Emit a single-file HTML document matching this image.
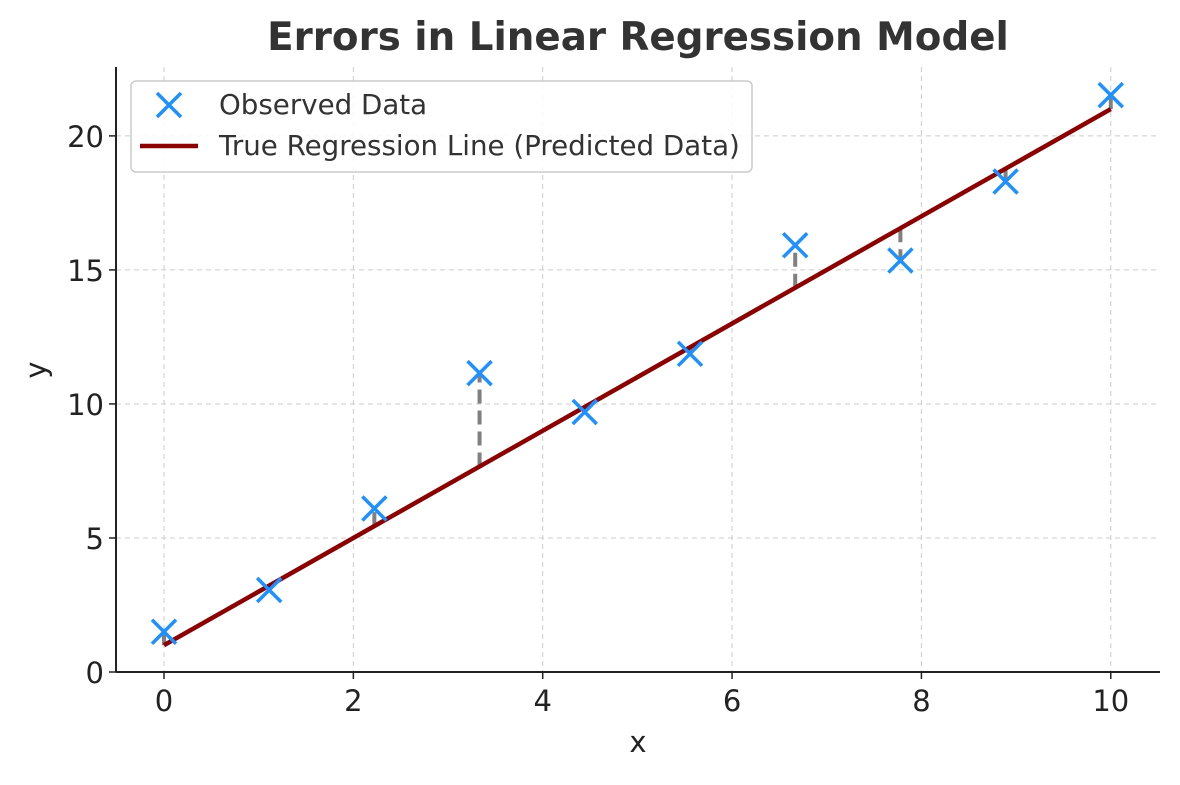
<!DOCTYPE html>
<html><head><meta charset="utf-8"><style>
body{margin:0;background:#fff;}
svg text{font-family:"DejaVu Sans","Liberation Sans",sans-serif;}
</style></head><body>
<svg id="chart" width="1180" height="780">
<text x="638" y="50" text-anchor="middle" font-size="38.8" font-weight="bold" fill="#333">Errors in Linear Regression Model</text>
<g id="grid"></g>
<g id="errs"></g>
<g id="line"></g>
<g id="pts"></g>
<g id="axes"></g>
</svg>
<script>
const xVals=[0,1.111,2.222,3.333,4.444,5.556,6.667,7.778,8.889,10];
const yObs=[1.5,3.06,6.1,11.15,9.7,11.87,15.92,15.35,18.3,21.52];
const slope=2, intercept=1;
const xTicks=[0,2,4,6,8,10];
const yTicks=[0,5,10,15,20];
const L=116,R=1160,T=67,B=672;
const xMin=-0.507,xMax=10.52,yMin=0,yMax=22.57;
const sx=v=>L+(v-xMin)/(xMax-xMin)*(R-L);
const sy=v=>B-(v-yMin)/(yMax-yMin)*(B-T);
const NS="http://www.w3.org/2000/svg";
function mk(tag,attrs,parent){const e=document.createElementNS(NS,tag);for(const k in attrs)e.setAttribute(k,attrs[k]);document.getElementById(parent).appendChild(e);return e;}
xTicks.forEach(t=>{
 const g=mk('line',{x1:sx(t),x2:sx(t),y1:T,y2:B,stroke:'#ccc','stroke-dasharray':'5,4','stroke-width':1},'grid');
 
 
 const tk=mk('line',{x1:sx(t),x2:sx(t),y1:B,y2:B+7,stroke:'#222','stroke-width':1.5},'axes');
 
 
 const tx=mk('text',{x:sx(t),y:B+39,'text-anchor':'middle','font-size':29,fill:'#222'},'axes');tx.textContent=t;
 
 
});
yTicks.forEach(t=>{
 const g=mk('line',{x1:L,x2:R,y1:sy(t),y2:sy(t),stroke:'#ccc','stroke-dasharray':'5,4','stroke-width':1},'grid');
 
 
 const tk=mk('line',{x1:L-7,x2:L,y1:sy(t),y2:sy(t),stroke:'#222','stroke-width':1.5},'axes');
 
 
 const tx=mk('text',{x:L-12,y:sy(t)+11,'text-anchor':'end','font-size':29,fill:'#222'},'axes');tx.textContent=t;
 
 
});
let a=mk('line',{x1:L,x2:L,y1:T,y2:B,stroke:'#222','stroke-width':2},'axes');


a=mk('line',{x1:L,x2:R,y1:B,y2:B,stroke:'#222','stroke-width':2},'axes');


let t=mk('text',{x:638,y:752,'text-anchor':'middle','font-size':29,fill:'#222'},'axes');t.textContent='x';


t=mk('text',{x:46,y:370,'text-anchor':'middle','font-size':29,fill:'#222',transform:'rotate(-90 46 370)'},'axes');t.textContent='y';


xVals.forEach((x,i)=>{
 const p=slope*x+intercept;
 const e=mk('line',{x1:sx(x),x2:sx(x),y1:sy(p),y2:sy(yObs[i]),stroke:'#808080','stroke-width':4,'stroke-dasharray':'14,7'},'errs');
 
 
});
const rl=mk('line',{x1:sx(xVals[0]),y1:sy(slope*xVals[0]+intercept),x2:sx(xVals[9]),y2:sy(slope*xVals[9]+intercept),stroke:'#8b0000','stroke-width':4.5},'line');


function cross(cx,cy,parent,name){
 const p=mk('path',{d:`M${cx-12} ${cy-12}L${cx+12} ${cy+12}M${cx-12} ${cy+12}L${cx+12} ${cy-12}`,stroke:'#1e90ff','stroke-width':3.5},parent);
 
 
}
xVals.forEach((x,i)=>cross(sx(x),sy(yObs[i]),'pts','observed-point'));
const lg=mk('rect',{x:131,y:81,width:621,height:91,rx:5,fill:'#fff','fill-opacity':0.85,stroke:'#ccc','stroke-width':1.5},'axes');


cross(169,105,'axes','legend-marker-observed');
let lt=mk('text',{x:219,y:114,'font-size':27.7,fill:'#333'},'axes');lt.textContent='Observed Data';


const ll=mk('line',{x1:140,x2:198,y1:146,y2:146,stroke:'#8b0000','stroke-width':4.5},'axes');


lt=mk('text',{x:219,y:155,'font-size':27.7,fill:'#333'},'axes');lt.textContent='True Regression Line (Predicted Data)';


</script>
</body></html>
